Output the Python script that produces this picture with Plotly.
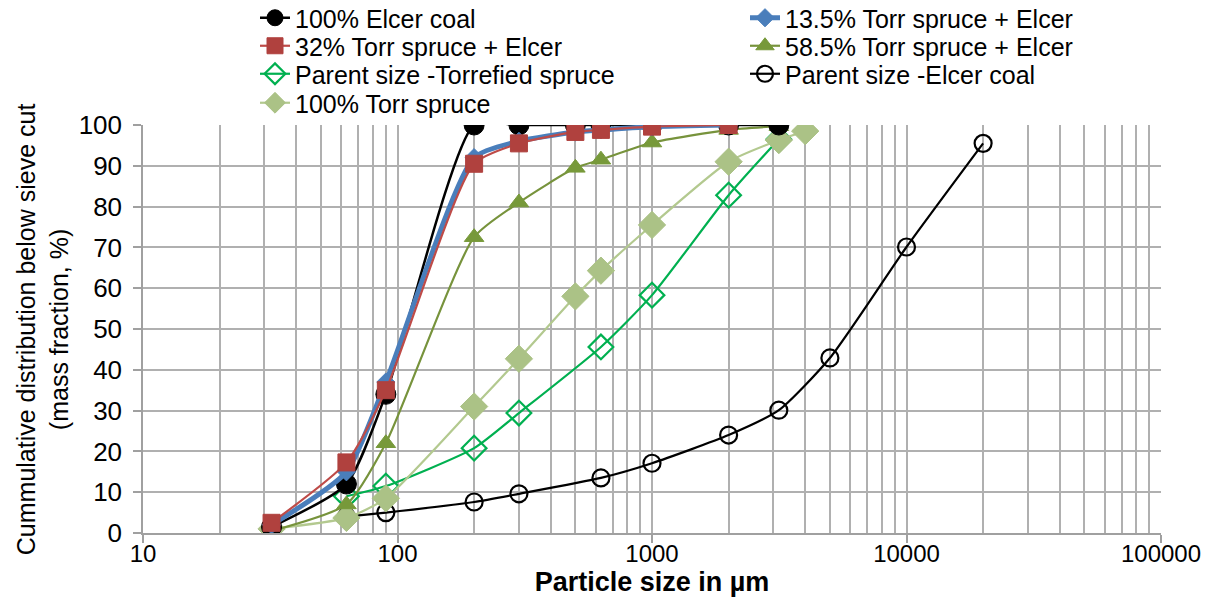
import plotly.graph_objects as go

# Sieve sizes (µm)
x_elcer = [32, 63, 90, 200, 300, 500, 630, 1000, 2000, 3150]
y_elcer = [1.5, 12, 34, 100, 100, 100, 100, 100, 100, 100]

x_torr13 = [32, 63, 90, 200, 300, 500, 630, 1000, 2000]
y_torr13 = [2, 15, 37, 92, 96, 98.3, 98.8, 99.6, 100]

x_torr32 = [32, 63, 90, 200, 300, 500, 630, 1000, 2000]
y_torr32 = [2.5, 17.3, 35, 90.5, 95.5, 98.3, 98.8, 99.6, 100]

x_torr58 = [32, 63, 90, 200, 300, 500, 630, 1000, 2000, 3150]
y_torr58 = [0.5, 7, 22, 72.5, 81, 89.5, 91.5, 95.7, 98.8, 99.7]

x_parent_torr = [63, 90, 200, 300, 630, 1000, 2000, 3150]
y_parent_torr = [9, 11.5, 20.8, 29.4, 45.6, 58.3, 82.8, 96.5]

x_parent_coal = [63, 90, 200, 300, 630, 1000, 2000, 3150, 5000, 10000, 20000]
y_parent_coal = [4, 5, 7.6, 9.6, 13.5, 17.1, 24, 30.1, 42.9, 70.1, 95.5]

x_torr100 = [32, 63, 90, 200, 300, 500, 630, 1000, 2000, 3150, 4000]
y_torr100 = [1, 3.7, 8.5, 31, 42.7, 58, 64.3, 75.5, 91, 96.3, 98.5]

x_tickvals = [10, 100, 1000, 10000, 100000]
x_ticktext = ["10", "100", "1000", "10000", "100000"]
y_tickvals = [0, 10, 20, 30, 40, 50, 60, 70, 80, 90, 100]

x_title = "Particle size in µm"
y_title = "Cummulative distribution below sieve cut<br>(mass fraction, %)"

names = {
    "elcer": "100% Elcer coal",
    "t13": "13.5% Torr spruce + Elcer",
    "t32": "32% Torr spruce + Elcer",
    "t58": "58.5% Torr spruce + Elcer",
    "ptorr": "Parent size -Torrefied spruce",
    "pcoal": "Parent size -Elcer coal",
    "t100": "100% Torr spruce",
}

# one legend box per entry: (legend id, column, row)
legend_slot = {"elcer": ("legend", 0, 0), "t13": ("legend2", 1, 0),
               "t32": ("legend3", 0, 1), "t58": ("legend4", 1, 1),
               "ptorr": ("legend5", 0, 2), "pcoal": ("legend6", 1, 2),
               "t100": ("legend7", 0, 3)}

fig = go.Figure()

def add(key, x, y, lcolor, lwidth, symbol, msize, mfill, mline, mlw):
    fig.add_trace(go.Scatter(
        x=x, y=y, name=names[key], mode="lines+markers",
        line=dict(color=lcolor, width=lwidth, shape="spline", smoothing=0.6),
        marker=dict(symbol=symbol, size=msize, color=mfill,
                    line=dict(color=mline, width=mlw)),
        legend=legend_slot[key][0],
    ))

# Draw order (back to front)
add("pcoal", x_parent_coal, y_parent_coal, "#000000", 2.2, "circle-open", 17, "#000000", "#000000", 2.2)
add("ptorr", x_parent_torr, y_parent_torr, "#00b050", 2.2, "diamond-open", 19, "#00b050", "#00b050", 2.2)
add("t100", x_torr100, y_torr100, "#b3c98f", 2.2, "diamond", 21, "#abc286", "#abc286", 1)
add("t58", x_torr58, y_torr58, "#77933c", 2.2, "triangle-up", 17, "#77993a", "#77993a", 1)
add("elcer", x_elcer, y_elcer, "#000000", 2.5, "circle", 20, "#000000", "#000000", 1)
add("t13", x_torr13, y_torr13, "#4a7ebb", 5, "diamond", 14, "#4a7ebb", "#4a7ebb", 1)
add("t32", x_torr32, y_torr32, "#be4b48", 2.2, "square", 17, "#b0413e", "#b0413e", 1)

legend_font = dict(family="Liberation Sans, Arial", size=25, color="#000000")
# page body has an 8px offset; container coords are relative to the figure
off = 8
col_x = [255 - off, 745 - off]
row_y = [18 - off, 46 - off, 74 - off, 103 - off]

legends = {}
for key, (lid, c, r) in legend_slot.items():
    legends[lid] = dict(xref="container", yref="container",
                        x=col_x[c] / 1213, y=1 - row_y[r] / 601,
                        xanchor="left", yanchor="middle",
                        font=legend_font, bgcolor="rgba(0,0,0,0)", itemwidth=30,
                        borderwidth=0)

fig.update_layout(
    width=1213, height=601,
    margin=dict(l=143 - off, r=52 + off, t=125 - off, b=68 + off, autoexpand=False),
    plot_bgcolor="#ffffff", paper_bgcolor="#ffffff",
    font=dict(family="Liberation Sans, Arial", size=24, color="#000000"),
    showlegend=True,
    **legends,
)

fig.add_annotation(
    text=y_title, xref="paper", yref="paper", x=-0.099, y=0.5,
    xanchor="center", yanchor="middle", textangle=-90, showarrow=False,
    font=dict(family="Liberation Sans, Arial", size=25, color="#000000"),
)

fig.update_xaxes(
    type="log", range=[1, 5],
    tickvals=x_tickvals, ticktext=x_ticktext, tickangle=0,
    ticks="outside", ticklen=8, tickcolor="#a0a0a0", tickwidth=1.5,
    ticklabelstandoff=-10,
    showline=True, linecolor="#a0a0a0", linewidth=1.5,
    showgrid=True, gridcolor="#b0b0b0", gridwidth=1.5,
    minor=dict(dtick="D1", showgrid=True, gridcolor="#b0b0b0", gridwidth=1.5, ticks=""),
    tickfont=dict(size=24),
    title=dict(text=x_title, standoff=2,
               font=dict(family="Liberation Sans, Arial", size=27, weight="bold")),
    zeroline=False,
)
fig.update_yaxes(
    range=[0, 100], tickvals=y_tickvals,
    ticks="outside", ticklen=8, tickcolor="#a0a0a0", tickwidth=1.5,
    ticklabelstandoff=6,
    showline=True, linecolor="#a0a0a0", linewidth=1.5,
    showgrid=True, gridcolor="#b0b0b0", gridwidth=1.5,
    tickfont=dict(size=26),
    zeroline=False,
)

fig.write_html("out.html")
